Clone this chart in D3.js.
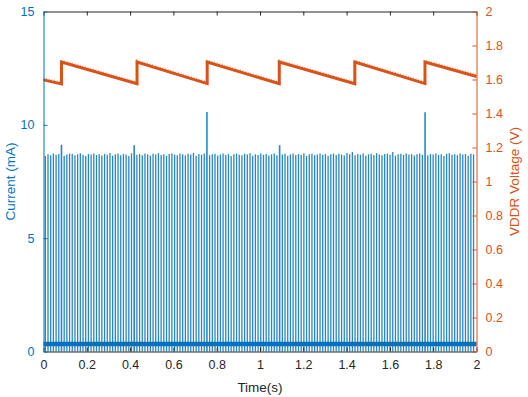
<!DOCTYPE html>
<html><head><meta charset="utf-8">
<script src="https://cdn.jsdelivr.net/npm/d3@7"></script>
<style>
html,body{margin:0;padding:0;background:#fff;}
svg{display:block;font-family:"Liberation Sans",Arial,sans-serif;}
</style></head>
<body>
<svg id="chart" width="528" height="397"></svg>
<script>
// ---- data ----
const timeTicks = [0,0.2,0.4,0.6,0.8,1,1.2,1.4,1.6,1.8,2];
const currentTicks = [0,5,10,15];
const voltageTicks = [0,0.2,0.4,0.6,0.8,1,1.2,1.4,1.6,1.8,2];
const spikeStart = 0.0084;      // s, time of first current pulse
const spikePeriod = 0.01244;    // s, pulse spacing
const spikePeaks = [
 8.62,8.70,8.66,8.74,8.68,8.71,9.12,8.64,8.69,8.73,8.72,8.66,8.70,8.75,8.68,8.63,8.71,8.69,8.74,8.67,
 8.70,8.65,8.72,8.68,8.76,8.64,8.70,8.73,8.66,8.71,8.69,8.62,8.74,9.10,8.68,8.71,8.66,8.73,8.70,8.64,
 8.72,8.69,8.75,8.67,8.70,8.63,8.71,8.74,8.68,8.66,8.73,8.70,8.65,8.72,8.69,8.76,8.64,8.71,8.68,8.73,
 10.57,8.66,8.70,8.72,8.65,8.69,8.74,8.67,8.71,8.63,8.70,8.73,8.68,8.66,8.72,8.69,8.75,8.64,8.70,8.67,
 8.73,8.68,8.71,8.65,8.70,8.74,8.66,9.10,8.69,8.72,8.64,8.70,8.73,8.67,8.71,8.68,8.75,8.63,8.70,8.72,
 8.66,8.69,8.74,8.68,8.71,8.64,8.70,8.73,8.67,8.72,8.69,8.65,8.76,8.70,8.80,8.66,8.71,8.68,8.73,8.64,
 8.70,8.72,8.67,8.75,8.69,8.66,8.71,8.73,8.68,8.80,8.64,8.70,8.72,8.67,8.74,8.69,8.71,8.65,8.70,8.73,
 8.68,10.55,8.66,8.71,8.69,8.74,8.67,8.70,8.63,8.72,8.75,8.68,8.70,8.66,8.73,8.69,8.71,8.64,8.72,8.70
];
const baselineCurrent = 0.33;   // mA, idle current between pulses
const vTimes  = [0, 0.083, 0.083, 0.432, 0.432, 0.756, 0.756, 1.089, 1.089, 1.438, 1.438, 1.762, 1.762, 2.0];
const vValues = [1.598, 1.574, 1.703, 1.575, 1.703, 1.576, 1.703, 1.575, 1.703, 1.575, 1.703, 1.576, 1.703, 1.618];

// ---- layout ----
const L = 43.5, R = 476.5, T = 11.5, B = 351.5;
const blue = "#0072BD", orange = "#D95319", dark = "#262626";
const svg = d3.select("#chart");

const x = d3.scaleLinear().domain([0,2]).range([L,R]);
const yI = d3.scaleLinear().domain([0,15]).range([B,T]);
const yV = d3.scaleLinear().domain([0,2]).range([B,T]);

const spikes = spikePeaks.map((p,i)=>({t: spikeStart + i*spikePeriod, p}));

const plot = svg.append("g");

// current pulses
plot.append("g").selectAll("line").data(spikes).join("line")
  .attr("x1", d=>x(d.t)).attr("x2", d=>x(d.t))
  .attr("y1", yI(0)).attr("y2", d=>yI(d.p))
  .attr("stroke", blue)
  .attr("stroke-width", d => d.p > 9 ? 1.6 : 1.3)
  .attr("stroke-opacity", 0.85);

// baseline current band
plot.append("line")
  .attr("x1", x(0)).attr("x2", x(2))
  .attr("y1", yI(baselineCurrent)).attr("y2", yI(baselineCurrent))
  .attr("stroke", blue).attr("stroke-width", 4.5);

// voltage
const vData = vTimes.map((t,i)=>({t, v: vValues[i]}));
const vLine = d3.line().x(d=>x(d.t)).y(d=>yV(d.v));
plot.append("path").datum(vData).attr("d", vLine)
  .attr("fill","none").attr("stroke", orange).attr("stroke-width", 3);
plot.append("path").datum(vData).attr("d", vLine)
  .attr("transform","translate(0,-1.6)")
  .attr("fill","none").attr("stroke", orange).attr("stroke-width", 2)
  .attr("stroke-dasharray", "0.8,1.9").attr("opacity",0.6);

// ---- axes ----
const fs = 12.5;
function style(g, color){
  g.select(".domain").attr("stroke", color).attr("stroke-width",1);
  g.selectAll(".tick line").attr("stroke", color);
  g.selectAll(".tick text").attr("fill", color).attr("font-size", fs).attr("font-family","Liberation Sans, Arial, sans-serif");
}
const fmt = d3.format("~g");

const xAxis = svg.append("g").attr("transform",`translate(0,${B})`)
  .call(d3.axisBottom(x).tickValues(timeTicks).tickFormat(fmt).tickSizeInner(-4).tickSizeOuter(0).tickPadding(9));
style(xAxis, dark);

const xTop = svg.append("g").attr("transform",`translate(0,${T})`)
  .call(d3.axisTop(x).tickValues(timeTicks).tickFormat("").tickSizeInner(-4).tickSizeOuter(0));
style(xTop, dark);

const yLeft = svg.append("g").attr("transform",`translate(${L},0)`)
  .call(d3.axisLeft(yI).tickValues(currentTicks).tickFormat(fmt).tickSizeInner(-4).tickSizeOuter(0).tickPadding(9));
style(yLeft, blue);

const yRight = svg.append("g").attr("transform",`translate(${R},0)`)
  .call(d3.axisRight(yV).tickValues(voltageTicks).tickFormat(fmt).tickSizeInner(-4).tickSizeOuter(0).tickPadding(9));
style(yRight, orange);

// axis labels
svg.append("text").attr("x", (L+R)/2).attr("y", 392).attr("text-anchor","middle")
  .attr("font-size", 13.5).attr("fill", dark).text("Time(s)");
svg.append("text").attr("transform",`translate(15,${(T+B)/2}) rotate(-90)`).attr("text-anchor","middle")
  .attr("font-size", 13.5).attr("fill", blue).text("Current (mA)");
svg.append("text").attr("transform",`translate(519,${(T+B)/2}) rotate(-90)`).attr("text-anchor","middle")
  .attr("font-size", 13.5).attr("fill", orange).text("VDDR Voltage (V)");
</script>
</body></html>
